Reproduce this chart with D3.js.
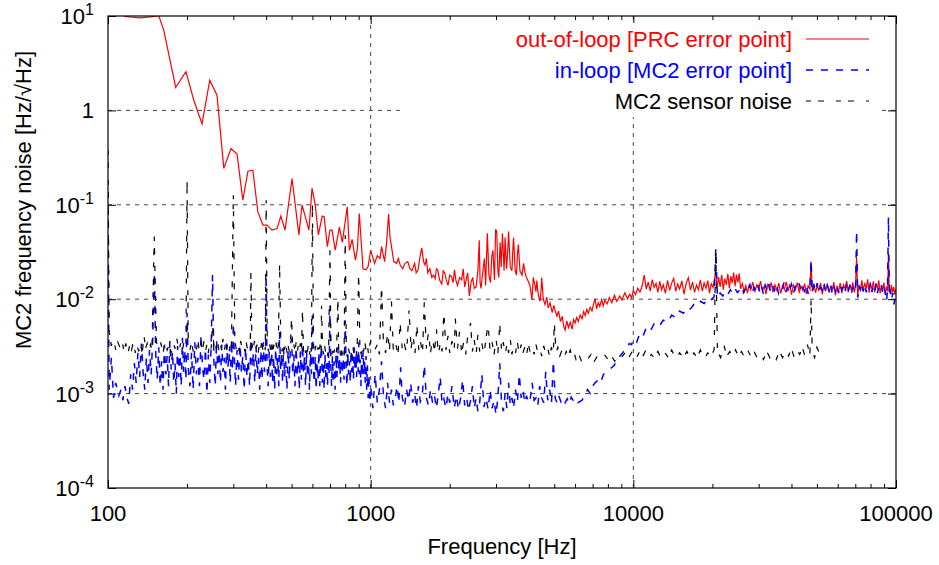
<!DOCTYPE html>
<html lang="en">
<head>
    <title>MC2 frequency noise</title>
    <meta charset="utf-8">
    <style>
        body { margin: 0; background: white; }
        svg { display: block; background: white; }
        text { font-family: "Liberation Sans", Arial, sans-serif; font-size: 22px; fill: #000; }
        .grid { stroke: #444; stroke-width: 1; stroke-dasharray: 4,5; }
    </style>
    <script src="https://d3js.org/d3.v7.min.js"></script>
</head>
<body>
<svg id="chart" width="939" height="565"></svg>
<script>
    // frequency [Hz], noise [Hz/sqrt(Hz)]
    const outOfLoop = [
        [100, 30], [108, 18], [116, 9.9], [124, 9.7], [132, 9.55], [145, 9.8], [156, 10.1], [163, 7.1],
        [181, 1.75], [198, 2.57], [212, 1.29], [228, 0.72], [244, 2.09], [260, 1.45], [276, 0.243],
        [294, 0.395], [310, 0.344], [326, 0.112], [341, 0.227], [356, 0.233], [372, 0.084], [389, 0.061],
        [403, 0.061], [421, 0.054], [440, 0.056], [455, 0.076], [472, 0.054], [502, 0.19], [533, 0.048],
        [548, 0.1], [582, 0.054], [598, 0.15], [615, 0.1], [632, 0.048], [654, 0.076], [665, 0.075],
        [684, 0.036], [700, 0.054], [713, 0.054], [733, 0.033], [760, 0.058], [780, 0.04], [814, 0.095],
        [830, 0.033], [850, 0.043], [875, 0.026], [890, 0.034], [905, 0.081], [935, 0.021], [960, 0.0205],
        [977, 0.022], [1000, 0.033], [1035, 0.024], [1060, 0.029], [1085, 0.027], [1100, 0.036], [1130, 0.025],
        [1150, 0.04], [1170, 0.08], [1185, 0.045], [1200, 0.036], [1225, 0.025], [1255, 0.024], [1275, 0.027],
        [1295, 0.023], [1325, 0.021], [1350, 0.024], [1385, 0.025], [1410, 0.021], [1435, 0.02], [1470, 0.024],
        [1490, 0.019], [1515, 0.0205], [1540, 0.028], [1565, 0.035], [1590, 0.025], [1610, 0.023], [1630, 0.027],
        [1650, 0.019], [1680, 0.021], [1710, 0.017], [1735, 0.018], [1760, 0.0165], [1780, 0.021], [1800, 0.0205],
        [1830, 0.016], [1865, 0.0145], [1890, 0.02], [1915, 0.019], [1940, 0.016], [1970, 0.014], [2000, 0.018],
        [2030, 0.0175], [2060, 0.015], [2085, 0.0205], [2110, 0.016], [2140, 0.014], [2180, 0.017], [2220, 0.016],
        [2250, 0.021], [2280, 0.0135], [2310, 0.016], [2340, 0.019], [2375, 0.0108], [2410, 0.015], [2445, 0.017],
        [2480, 0.013], [2520, 0.0135], [2560, 0.02], [2590, 0.042], [2610, 0.015], [2630, 0.013], [2670, 0.019],
        [2710, 0.027], [2740, 0.014], [2780, 0.05], [2820, 0.018], [2860, 0.015], [2890, 0.028], [2920, 0.033],
        [2960, 0.016], [2990, 0.055], [3020, 0.052], [3050, 0.02], [3075, 0.017], [3110, 0.04], [3140, 0.022],
        [3175, 0.05], [3220, 0.02], [3250, 0.045], [3290, 0.021], [3320, 0.03], [3350, 0.052], [3400, 0.022],
        [3450, 0.02], [3480, 0.035], [3500, 0.045], [3550, 0.02], [3590, 0.018], [3620, 0.03], [3650, 0.038],
        [3700, 0.02], [3770, 0.018], [3820, 0.024], [3870, 0.019], [3920, 0.017], [3980, 0.0155], [4040, 0.014],
        [4110, 0.0098], [4160, 0.017], [4220, 0.014], [4260, 0.012], [4290, 0.0158], [4350, 0.011], [4410, 0.0095],
        [4450, 0.012], [4480, 0.017], [4540, 0.01], [4610, 0.0088], [4680, 0.0105], [4740, 0.0081], [4820, 0.0092],
        [4910, 0.0072], [4980, 0.0086], [5050, 0.0074], [5120, 0.0066], [5190, 0.0075], [5280, 0.0058], [5360, 0.0066],
        [5430, 0.0052], [5500, 0.0047], [5580, 0.0059], [5660, 0.005], [5750, 0.0057], [5850, 0.0048], [5920, 0.0061],
        [6000, 0.0056], [6080, 0.0064], [6170, 0.0058], [6270, 0.0068], [6380, 0.0062], [6470, 0.0074], [6560, 0.0067],
        [6650, 0.0078], [6740, 0.0071], [6850, 0.0082], [6960, 0.0075], [7050, 0.0088], [7150, 0.0101], [7250, 0.0079],
        [7350, 0.0092], [7450, 0.0084], [7580, 0.0099], [7680, 0.0085], [7790, 0.0097], [7950, 0.0089], [8100, 0.0104],
        [8280, 0.0092], [8470, 0.011], [8650, 0.0095], [8880, 0.0108], [9050, 0.0098], [9280, 0.0117], [9500, 0.0101],
        [9700, 0.0113], [9850, 0.0103], [10000, 0.0124], [10200, 0.0112], [10400, 0.0131], [10600, 0.0119], [10800, 0.0138],
        [11000, 0.018], [11200, 0.0128], [11400, 0.0152], [11600, 0.0122], [11800, 0.0161], [12000, 0.0133], [12200, 0.0147],
        [12400, 0.0118], [12600, 0.0155], [12800, 0.0126], [13000, 0.0142], [13250, 0.0115], [13500, 0.0158], [13750, 0.0124],
        [14000, 0.0149], [14250, 0.0166], [14500, 0.0121], [14750, 0.0145], [15000, 0.0128], [15300, 0.0156], [15600, 0.0113],
        [15900, 0.0148], [16200, 0.0169], [16500, 0.0125], [16800, 0.0152], [17100, 0.0118], [17400, 0.0141], [17700, 0.0126],
        [18000, 0.016], [18300, 0.0122], [18600, 0.0149], [18900, 0.0131], [19200, 0.0157], [19500, 0.0116], [19800, 0.0146],
        [20100, 0.0133], [20400, 0.0168], [20600, 0.02], [20800, 0.0128], [21100, 0.0172], [21400, 0.0135], [21700, 0.0181],
        [22000, 0.0126], [22300, 0.0165], [22600, 0.0142], [22900, 0.0186], [23200, 0.0131], [23500, 0.0176], [23800, 0.0148],
        [24100, 0.0192], [24400, 0.0137], [24700, 0.0182], [25000, 0.0151], [25300, 0.0188], [25600, 0.0129], [26000, 0.0147],
        [26400, 0.0121], [26800, 0.0139], [27200, 0.0116], [27600, 0.0143], [28000, 0.0126], [28500, 0.0152], [29000, 0.0119],
        [29500, 0.0141], [30000, 0.0127], [30500, 0.0155], [31000, 0.0122], [31500, 0.0138], [32000, 0.0113], [32500, 0.0146],
        [33000, 0.0129], [33500, 0.0151], [34000, 0.0118], [34600, 0.0142], [35200, 0.0124], [35800, 0.0148], [36400, 0.0115],
        [37000, 0.0139], [37600, 0.0127], [38200, 0.0153], [38800, 0.0121], [39400, 0.0144], [40000, 0.0112], [40700, 0.0141],
        [41400, 0.0126], [42100, 0.015], [42800, 0.0119], [43500, 0.0137], [44200, 0.0123], [44900, 0.0146], [45600, 0.0114],
        [46300, 0.0139], [47000, 0.0128], [47500, 0.025], [48000, 0.0121], [48700, 0.0145], [49400, 0.0117], [50100, 0.0138],
        [50800, 0.0125], [51600, 0.0149], [52400, 0.0113], [53200, 0.0141], [54000, 0.0122], [54800, 0.0147], [55600, 0.0118],
        [56400, 0.0136], [57200, 0.0126], [58000, 0.0152], [58800, 0.011], [59600, 0.0139], [60400, 0.0121], [61300, 0.0148],
        [62200, 0.0116], [63100, 0.0142], [64000, 0.0128], [64900, 0.0156], [65800, 0.0119], [66700, 0.0144], [67600, 0.0125],
        [68500, 0.0151], [69400, 0.0118], [70100, 0.0137], [70800, 0.028], [71500, 0.0106], [72300, 0.0142], [73200, 0.0124],
        [74100, 0.0158], [75000, 0.0121], [76000, 0.0149], [77000, 0.0129], [78000, 0.0162], [79000, 0.0117], [80000, 0.0146],
        [81000, 0.0127], [82000, 0.0155], [83000, 0.0119], [84000, 0.0143], [85000, 0.0131], [86000, 0.0158], [87000, 0.0115],
        [88000, 0.0141], [89000, 0.0124], [90000, 0.015], [91000, 0.0112], [92000, 0.0136], [93000, 0.0121], [93600, 0.031],
        [94200, 0.0139], [95000, 0.0113], [96000, 0.0142], [97000, 0.0118], [98000, 0.0135], [99000, 0.0112], [100000, 0.0128]
    ];

    const inLoop = [
        [100, 0.1], [101, 0.0011], [103, 0.0024], [105, 0.0009], [107, 0.0013], [110, 0.00095], [112, 0.0011], [114, 0.00085],
        [116, 0.0012], [118, 0.0009], [120, 0.00078], [122, 0.0016], [124, 0.0011], [126, 0.0021], [128, 0.0013], [130, 0.0027],
        [132, 0.0015], [134, 0.0034], [136, 0.0017], [138, 0.0011], [140, 0.0024], [142, 0.0013], [144, 0.0029], [146, 0.0016],
        [148, 0.0038], [150, 0.019], [152, 0.0026], [154, 0.0014], [156, 0.0031], [158, 0.0012], [160, 0.0022], [162, 0.0011],
        [164, 0.0033], [166, 0.0016], [168, 0.0025], [170, 0.0012], [172, 0.0036], [174, 0.0018], [176, 0.0028], [178, 0.0013],
        [180, 0.0021], [182, 0.001], [184, 0.0032], [186, 0.0015], [188, 0.0026], [190, 0.0012], [192, 0.0039], [194, 0.0017],
        [196, 0.0029], [198, 0.0014], [200, 0.0072], [202, 0.0019], [205, 0.0012], [208, 0.0027], [211, 0.0011], [214, 0.0035],
        [217, 0.0016], [220, 0.0024], [223, 0.0012], [226, 0.0042], [229, 0.0019], [232, 0.0014], [235, 0.003], [238, 0.001],
        [241, 0.0026], [244, 0.0013], [247, 0.0031], [250, 0.018], [253, 0.0022], [256, 0.0012], [259, 0.0037], [262, 0.0016],
        [265, 0.0028], [268, 0.0013], [271, 0.0033], [274, 0.0017], [277, 0.0024], [280, 0.0011], [283, 0.0034], [286, 0.0019],
        [289, 0.0027], [292, 0.0013], [295, 0.0036], [298, 0.0018], [300, 0.0056], [303, 0.0022], [306, 0.0012], [310, 0.0029],
        [314, 0.0014], [318, 0.0033], [322, 0.0017], [326, 0.0025], [330, 0.0011], [334, 0.0031], [338, 0.0015], [342, 0.0023],
        [346, 0.0012], [350, 0.0038], [354, 0.0019], [358, 0.0027], [362, 0.0013], [366, 0.0032], [370, 0.0016], [374, 0.0024],
        [378, 0.0011], [382, 0.0029], [386, 0.0014], [390, 0.0035], [394, 0.0017], [398, 0.0026], [400, 0.018], [403, 0.0021],
        [407, 0.0012], [411, 0.0028], [415, 0.0015], [419, 0.0033], [423, 0.0013], [427, 0.0025], [431, 0.0011], [435, 0.003],
        [439, 0.0016], [443, 0.0024], [447, 0.0012], [450, 0.0045], [454, 0.0018], [458, 0.0027], [462, 0.0013], [466, 0.0031],
        [470, 0.0015], [475, 0.0022], [480, 0.0011], [485, 0.0029], [490, 0.0014], [495, 0.0034], [500, 0.0038], [505, 0.0016],
        [510, 0.0026], [515, 0.0012], [520, 0.0031], [525, 0.0015], [530, 0.0023], [535, 0.0011], [540, 0.0028], [545, 0.0014],
        [550, 0.0033], [555, 0.0017], [560, 0.0025], [565, 0.0012], [570, 0.0029], [575, 0.0015], [580, 0.0021], [585, 0.0011],
        [590, 0.0027], [595, 0.0016], [600, 0.0067], [605, 0.0019], [610, 0.0013], [615, 0.0025], [620, 0.0011], [625, 0.0022],
        [630, 0.0014], [635, 0.0028], [640, 0.0012], [645, 0.0024], [650, 0.0032], [655, 0.0013], [660, 0.0022], [665, 0.0011],
        [670, 0.0026], [675, 0.0015], [680, 0.0021], [685, 0.0012], [690, 0.0027], [695, 0.0016], [700, 0.0085], [705, 0.002],
        [710, 0.0012], [715, 0.0025], [720, 0.0014], [726, 0.0022], [732, 0.0011], [738, 0.0026], [744, 0.0015], [750, 0.0031],
        [756, 0.0017], [762, 0.0023], [768, 0.0013], [774, 0.0028], [780, 0.0016], [786, 0.0024], [792, 0.0014], [800, 0.006],
        [806, 0.002], [812, 0.0012], [818, 0.0027], [824, 0.0016], [830, 0.0022], [836, 0.0013], [842, 0.0029], [848, 0.0017],
        [854, 0.0025], [860, 0.0014], [866, 0.0031], [872, 0.0018], [878, 0.0026], [884, 0.0015], [890, 0.0028], [896, 0.0017],
        [900, 0.0035], [906, 0.0016], [912, 0.0023], [918, 0.0012], [924, 0.0026], [930, 0.0015], [936, 0.0029], [942, 0.0016],
        [948, 0.0022], [954, 0.0013], [960, 0.0025], [966, 0.0011], [972, 0.002], [978, 0.0009], [985, 0.0016], [992, 0.0008],
        [1000, 0.0012], [1020, 0.0007], [1040, 0.0016], [1060, 0.0008], [1080, 0.0011], [1100, 0.0022], [1120, 0.0009],
        [1140, 0.0007], [1160, 0.0013], [1180, 0.0008], [1200, 0.0011], [1220, 0.00075], [1240, 0.0009], [1260, 0.0012],
        [1280, 0.0008], [1300, 0.0019], [1320, 0.0009], [1345, 0.00072], [1370, 0.0011], [1395, 0.00085], [1420, 0.0013],
        [1445, 0.0008], [1470, 0.001], [1495, 0.0007], [1520, 0.0012], [1545, 0.00082], [1570, 0.0009], [1600, 0.002],
        [1630, 0.0009], [1660, 0.00075], [1690, 0.0011], [1720, 0.0008], [1750, 0.00095], [1780, 0.0007], [1810, 0.001],
        [1840, 0.0015], [1870, 0.00078], [1900, 0.00088], [1935, 0.0007], [1970, 0.001], [2000, 0.0008], [2040, 0.0012],
        [2080, 0.0007], [2120, 0.00095], [2160, 0.00068], [2200, 0.0009], [2240, 0.0014], [2280, 0.00075], [2320, 0.0009],
        [2360, 0.00066], [2400, 0.00085], [2440, 0.0012], [2480, 0.0007], [2520, 0.0009], [2560, 0.00065], [2600, 0.0008],
        [2650, 0.0016], [2700, 0.00072], [2750, 0.0009], [2800, 0.00068], [2850, 0.0011], [2900, 0.0007], [2950, 0.00085],
        [3000, 0.0006], [3050, 0.0009], [3100, 0.0021], [3150, 0.0008], [3200, 0.00065], [3250, 0.001], [3300, 0.0007],
        [3350, 0.0013], [3400, 0.00075], [3450, 0.0009], [3500, 0.0007], [3560, 0.0011], [3620, 0.00082], [3680, 0.0016],
        [3740, 0.0009], [3800, 0.0011], [3860, 0.0008], [3920, 0.00095], [3980, 0.0008], [4050, 0.00088], [4120, 0.0013],
        [4190, 0.00085], [4260, 0.0009], [4330, 0.00075], [4400, 0.0012], [4480, 0.0009], [4560, 0.0008], [4640, 0.0017],
        [4720, 0.00085], [4800, 0.0011], [4880, 0.0008], [4960, 0.0022], [5040, 0.0009], [5120, 0.0008], [5200, 0.00095],
        [5300, 0.00082], [5400, 0.0009], [5500, 0.0008], [5600, 0.00088], [5700, 0.00078], [5800, 0.00092], [5900, 0.00085],
        [6000, 0.0009], [6150, 0.0008], [6380, 0.00085], [6550, 0.001], [6700, 0.0011], [6850, 0.001], [7000, 0.0012],
        [7150, 0.0013], [7350, 0.0014], [7500, 0.0013], [7700, 0.0016], [7900, 0.0017], [8100, 0.0018], [8300, 0.0019],
        [8470, 0.002], [8650, 0.0023], [8800, 0.0024], [9000, 0.0026], [9200, 0.0028], [9400, 0.0029], [9650, 0.0034],
        [9850, 0.0033], [10000, 0.0038], [10300, 0.0035], [10600, 0.0044], [10900, 0.0041], [11200, 0.005], [11600, 0.0046],
        [12000, 0.0055], [12500, 0.0051], [13000, 0.006], [13500, 0.0057], [14000, 0.0068], [14500, 0.0064], [15000, 0.0075],
        [15500, 0.0071], [16000, 0.0082], [16500, 0.0079], [17000, 0.0088], [17500, 0.0085], [18000, 0.0095], [18600, 0.009],
        [19200, 0.0101], [19700, 0.0097], [20300, 0.0106], [20600, 0.034], [20900, 0.0104], [21400, 0.0116], [21900, 0.0108],
        [22400, 0.0121], [22900, 0.0112], [23400, 0.0126], [23900, 0.0115], [24400, 0.0129], [24900, 0.0118], [25300, 0.0124],
        [25800, 0.0136], [26300, 0.0117], [26800, 0.0131], [27300, 0.0121], [27800, 0.0142], [28300, 0.0115], [28800, 0.0134],
        [29300, 0.0125], [29800, 0.0146], [30300, 0.0118], [30800, 0.0137], [31300, 0.0112], [31800, 0.0141], [32300, 0.0126],
        [32800, 0.0148], [33300, 0.0119], [33900, 0.0139], [34500, 0.0124], [35100, 0.0145], [35700, 0.0116], [36300, 0.0133],
        [36900, 0.0127], [37500, 0.0151], [38100, 0.0119], [38700, 0.0137], [39300, 0.0123], [40000, 0.0144], [40700, 0.0115],
        [41400, 0.0136], [42100, 0.0126], [42800, 0.0147], [43500, 0.0118], [44200, 0.0133], [44900, 0.0121], [45600, 0.0142],
        [46300, 0.0114], [47000, 0.0131], [47500, 0.026], [48000, 0.0117], [48700, 0.0139], [49400, 0.0122], [50100, 0.0148],
        [50800, 0.0119], [51600, 0.0135], [52400, 0.0126], [53200, 0.015], [54000, 0.0117], [54800, 0.0138], [55600, 0.0123],
        [56400, 0.0145], [57200, 0.0112], [58000, 0.0134], [58800, 0.0121], [59600, 0.0139], [60400, 0.0116], [61300, 0.0142],
        [62200, 0.0125], [63100, 0.0137], [64000, 0.0118], [64900, 0.0146], [65800, 0.0122], [66700, 0.014], [67600, 0.0115],
        [68500, 0.0133], [69400, 0.0124], [70100, 0.0119], [70800, 0.053], [71500, 0.0104], [72300, 0.0137], [73200, 0.0126],
        [74100, 0.0149], [75000, 0.0121], [76000, 0.0143], [77000, 0.0118], [78000, 0.0138], [79000, 0.0127], [80000, 0.0152],
        [81000, 0.0119], [82000, 0.014], [83000, 0.0123], [84000, 0.0146], [85000, 0.0116], [86000, 0.0135], [87000, 0.0128],
        [88000, 0.0142], [89000, 0.0114], [90000, 0.0131], [91000, 0.0119], [92000, 0.0095], [92800, 0.0122], [93600, 0.074],
        [94300, 0.0108], [95200, 0.0126], [96200, 0.0099], [97200, 0.0117], [98200, 0.0088], [99200, 0.0104], [100000, 0.0092]
    ];

    const sensorNoise = [
        [100, 0.38], [101, 0.0045], [103, 0.0032], [105, 0.0038], [107, 0.0029], [109, 0.0035], [111, 0.0031], [113, 0.0037],
        [115, 0.0028], [117, 0.0034], [119, 0.0026], [121, 0.0033], [123, 0.0029], [125, 0.0036], [127, 0.0027], [129, 0.0032],
        [131, 0.0028], [133, 0.0035], [135, 0.0026], [137, 0.0042], [139, 0.003], [141, 0.0034], [143, 0.0028], [145, 0.0033],
        [147, 0.0029], [150, 0.046], [153, 0.0035], [156, 0.0029], [159, 0.0034], [162, 0.0027], [165, 0.0036], [168, 0.0029],
        [171, 0.0033], [174, 0.0027], [177, 0.0035], [180, 0.003], [183, 0.0038], [186, 0.0028], [189, 0.0034], [192, 0.0029],
        [195, 0.0036], [198, 0.0031], [200, 0.175], [202, 0.0038], [205, 0.0029], [208, 0.0035], [211, 0.0028], [214, 0.0033],
        [217, 0.0029], [220, 0.0037], [223, 0.0027], [226, 0.0034], [229, 0.0029], [232, 0.0036], [235, 0.0028], [238, 0.0033],
        [241, 0.0027], [244, 0.0035], [247, 0.003], [250, 0.0055], [253, 0.0031], [256, 0.0036], [259, 0.0029], [262, 0.0034],
        [265, 0.0027], [268, 0.0033], [271, 0.0029], [274, 0.0038], [277, 0.0028], [280, 0.0034], [283, 0.0029], [286, 0.0035],
        [289, 0.0028], [292, 0.0033], [295, 0.003], [300, 0.126], [304, 0.0037], [308, 0.0029], [312, 0.0034], [316, 0.0028],
        [320, 0.0036], [324, 0.003], [328, 0.0033], [332, 0.0028], [336, 0.0035], [340, 0.0029], [344, 0.0032], [348, 0.0028],
        [350, 0.0195], [353, 0.0034], [357, 0.0029], [361, 0.0036], [365, 0.0028], [369, 0.0033], [373, 0.0027], [377, 0.0034],
        [381, 0.0029], [385, 0.0037], [389, 0.0028], [393, 0.0033], [397, 0.0029], [400, 0.112], [404, 0.0035], [408, 0.0028],
        [412, 0.0034], [416, 0.0029], [420, 0.0036], [424, 0.0027], [428, 0.0033], [432, 0.0029], [436, 0.0035], [440, 0.0028],
        [445, 0.0032], [450, 0.023], [455, 0.0034], [460, 0.0028], [465, 0.0033], [470, 0.0029], [475, 0.0036], [480, 0.0027],
        [485, 0.0032], [490, 0.0028], [495, 0.0034], [500, 0.0065], [505, 0.0029], [510, 0.0033], [515, 0.0028], [520, 0.0035],
        [525, 0.0027], [530, 0.0032], [535, 0.0029], [540, 0.0034], [545, 0.0027], [550, 0.0075], [555, 0.0028], [560, 0.0033],
        [565, 0.0027], [570, 0.0031], [575, 0.0028], [580, 0.0034], [585, 0.0026], [590, 0.0032], [595, 0.0028], [600, 0.099],
        [606, 0.0033], [612, 0.0027], [618, 0.0032], [624, 0.0026], [630, 0.0031], [636, 0.0027], [642, 0.0033], [648, 0.0026],
        [650, 0.0085], [656, 0.003], [662, 0.0026], [668, 0.0032], [674, 0.0027], [680, 0.003], [686, 0.0025], [692, 0.0031],
        [700, 0.033], [706, 0.0029], [712, 0.0026], [718, 0.0031], [724, 0.0027], [730, 0.003], [736, 0.0025], [742, 0.0029],
        [750, 0.0105], [756, 0.0027], [762, 0.0031], [768, 0.0025], [774, 0.0029], [780, 0.0026], [786, 0.003], [792, 0.0025],
        [800, 0.048], [808, 0.0028], [816, 0.0024], [824, 0.003], [832, 0.0026], [840, 0.0029], [848, 0.0024], [856, 0.0031],
        [864, 0.0026], [872, 0.0029], [880, 0.0025], [888, 0.003], [900, 0.019], [910, 0.0031], [920, 0.0026], [930, 0.0033],
        [940, 0.0028], [950, 0.0035], [960, 0.0029], [970, 0.0034], [980, 0.0027], [990, 0.0032], [1000, 0.0036], [1030, 0.0028],
        [1060, 0.0033], [1080, 0.0026], [1100, 0.014], [1120, 0.0031], [1140, 0.0027], [1160, 0.0045], [1180, 0.0029],
        [1200, 0.0095], [1220, 0.0028], [1245, 0.0034], [1270, 0.0026], [1295, 0.0055], [1320, 0.0029], [1345, 0.0033],
        [1370, 0.0027], [1400, 0.0076], [1425, 0.003], [1450, 0.0042], [1475, 0.0027], [1500, 0.0052], [1525, 0.0029],
        [1550, 0.0035], [1575, 0.0026], [1600, 0.0093], [1630, 0.003], [1660, 0.0045], [1690, 0.0027], [1720, 0.0038],
        [1750, 0.0028], [1780, 0.0048], [1810, 0.0026], [1840, 0.0034], [1870, 0.0028], [1900, 0.0073], [1935, 0.0029],
        [1970, 0.0041], [2000, 0.0027], [2040, 0.0036], [2080, 0.0028], [2100, 0.0063], [2140, 0.003], [2180, 0.0045],
        [2220, 0.0027], [2260, 0.0035], [2300, 0.0026], [2340, 0.004], [2400, 0.0056], [2440, 0.0028], [2480, 0.0037],
        [2520, 0.0026], [2560, 0.0042], [2600, 0.0028], [2650, 0.0034], [2700, 0.0026], [2750, 0.0039], [2800, 0.0054],
        [2850, 0.0028], [2900, 0.0035], [2950, 0.0026], [3000, 0.0038], [3050, 0.0027], [3100, 0.0054], [3150, 0.0029],
        [3200, 0.0035], [3250, 0.0026], [3300, 0.0033], [3350, 0.0027], [3400, 0.0038], [3450, 0.0026], [3500, 0.0032],
        [3560, 0.0027], [3620, 0.0035], [3680, 0.0026], [3740, 0.0033], [3800, 0.0027], [3860, 0.0031], [3920, 0.0025],
        [3980, 0.0034], [4050, 0.0027], [4120, 0.0031], [4190, 0.0026], [4260, 0.0033], [4330, 0.0027], [4400, 0.003],
        [4480, 0.0025], [4560, 0.0032], [4640, 0.0026], [4720, 0.003], [4800, 0.0025], [4880, 0.0031], [4960, 0.0026],
        [5000, 0.0058], [5080, 0.0027], [5160, 0.0031], [5250, 0.0025], [5350, 0.0029], [5450, 0.0024], [5550, 0.0028],
        [5650, 0.0025], [5750, 0.0029], [5850, 0.0024], [5950, 0.0027], [6050, 0.0023], [6200, 0.0026], [6350, 0.0022],
        [6500, 0.0025], [6700, 0.0023], [6900, 0.0026], [7100, 0.0022], [7300, 0.0025], [7500, 0.0023], [7750, 0.0026],
        [8000, 0.0023], [8250, 0.0025], [8500, 0.0022], [8750, 0.0026], [9000, 0.0024], [9300, 0.0027], [9600, 0.0024],
        [9900, 0.0028], [10200, 0.0023], [10500, 0.0027], [10800, 0.0024], [11100, 0.0028], [11400, 0.0023], [11700, 0.0026],
        [12000, 0.0024], [12400, 0.0028], [12800, 0.0023], [13200, 0.0027], [13600, 0.0024], [14000, 0.0029], [14500, 0.0023],
        [15000, 0.0027], [15500, 0.0024], [16000, 0.0028], [16500, 0.0023], [17000, 0.0027], [17500, 0.0024], [18000, 0.0029],
        [18600, 0.0023], [19200, 0.0027], [19800, 0.0025], [20300, 0.0029], [20600, 0.034], [20900, 0.0028], [21500, 0.0024],
        [22100, 0.0033], [22700, 0.0025], [23300, 0.0028], [23900, 0.0024], [24500, 0.0029], [25100, 0.0025], [25800, 0.0028],
        [26500, 0.0024], [27200, 0.0029], [28000, 0.0025], [28800, 0.0028], [29600, 0.0024], [30400, 0.0027], [31300, 0.0023],
        [32200, 0.0028], [33100, 0.0024], [34000, 0.0027], [35000, 0.0023], [36000, 0.0028], [37000, 0.0024], [38000, 0.0029],
        [39000, 0.0025], [40000, 0.003], [41000, 0.0024], [42000, 0.0029], [43000, 0.0026], [44000, 0.0031], [45000, 0.0025],
        [46000, 0.0033], [47000, 0.0026], [47500, 0.0097], [48000, 0.0028], [49000, 0.0024], [50000, 0.0031], [51000, 0.0027]
    ];

    const seriesNames = ["out-of-loop [PRC error point]", "in-loop [MC2 error point]", "MC2 sensor noise"];
    const seriesColors = ["#ff0000", "#0000ff", "#000000"];
    const seriesDashes = [null, "7,8", "5,7,6,12"];
    const seriesWidths = [1.2, 1.5, 1.2];

    const xTickValues = [100, 1000, 10000, 100000];
    const xTickLabels = ["100", "1000", "10000", "100000"];
    const yTickValues = [1e-4, 1e-3, 1e-2, 1e-1, 1, 10];
    const yTickLabels = [["10", "-4"], ["10", "-3"], ["10", "-2"], ["10", "-1"], ["1", ""], ["10", "1"]];
    const xGridValues = [1000, 10000];
    const yGridValues = [1e-3, 1e-2, 1e-1, 1];

    const plotL = 108, plotR = 896, plotT = 16, plotB = 488;

    const x = d3.scaleLog().domain([100, 100000]).range([plotL, plotR]);
    const y = d3.scaleLog().domain([1e-4, 10]).range([plotB, plotT]);

    const xMinor = [];
    [100, 1000, 10000].forEach(dec => d3.range(2, 10).forEach(m => xMinor.push(dec * m)));

    const svg = d3.select("#chart");

    // grid
    svg.append("g").selectAll("line").data(xGridValues).join("line")
        .attr("class", "grid")
        .attr("x1", d => x(d)).attr("x2", d => x(d))
        .attr("y1", plotT).attr("y2", plotB);
    svg.append("g").selectAll("line").data(yGridValues).join("line")
        .attr("class", "grid")
        .attr("x1", plotL).attr("x2", plotR)
        .attr("y1", d => y(d)).attr("y2", d => y(d));

    // ticks on all four sides, pointing inwards
    const noLabel = () => "";
    const axes = [
        [d3.axisBottom(x).tickValues(xTickValues).tickSize(-8), `translate(0,${plotB})`],
        [d3.axisBottom(x).tickValues(xMinor).tickSize(-4), `translate(0,${plotB})`],
        [d3.axisTop(x).tickValues(xTickValues).tickSize(-8), `translate(0,${plotT})`],
        [d3.axisTop(x).tickValues(xMinor).tickSize(-4), `translate(0,${plotT})`],
        [d3.axisLeft(y).tickValues(yTickValues).tickSize(-8), `translate(${plotL},0)`],
        [d3.axisRight(y).tickValues(yTickValues).tickSize(-8), `translate(${plotR},0)`]
    ];
    axes.forEach(([ax, tr]) => {
        const g = svg.append("g").attr("transform", tr).call(ax.tickFormat(noLabel));
        g.select(".domain").remove();
        g.selectAll(".tick line").attr("stroke", "#000");
    });

    // legend background
    svg.append("rect")
        .attr("x", 400).attr("y", 23).attr("width", 481).attr("height", 94)
        .attr("fill", "white");

    // curves
    svg.append("clipPath").attr("id", "plot-clip")
        .append("rect").attr("x", plotL).attr("y", plotT)
        .attr("width", plotR - plotL).attr("height", plotB - plotT);

    const line = d3.line().x(d => x(d[0])).y(d => y(d[1]));
    const plotG = svg.append("g").attr("clip-path", "url(#plot-clip)");
    [outOfLoop, inLoop, sensorNoise].forEach((data, i) => {
        plotG.append("path")
            .datum(data)
            .attr("d", line)
            .attr("fill", "none")
            .attr("stroke", seriesColors[i])
            .attr("stroke-width", seriesWidths[i])
            .attr("stroke-dasharray", seriesDashes[i]);
    });

    // border
    svg.append("rect")
        .attr("x", plotL).attr("y", plotT)
        .attr("width", plotR - plotL).attr("height", plotB - plotT)
        .attr("fill", "none").attr("stroke", "#000").attr("stroke-width", 1.2);

    // tick labels
    svg.append("g").selectAll("text").data(xTickValues).join("text")
        .attr("x", d => x(d)).attr("y", 521)
        .attr("text-anchor", "middle")
        .text((d, i) => xTickLabels[i]);

    const yLabels = svg.append("g").selectAll("text").data(yTickValues).join("text")
        .attr("x", 94).attr("y", d => y(d) + 8)
        .attr("text-anchor", "end");
    yLabels.append("tspan").text((d, i) => yTickLabels[i][0]);
    yLabels.append("tspan")
        .attr("dy", -9)
        .style("font-size", "16px")
        .text((d, i) => yTickLabels[i][1]);

    // axis titles
    svg.append("text")
        .attr("x", (plotL + plotR) / 2).attr("y", 554)
        .attr("text-anchor", "middle")
        .text("Frequency [Hz]");
    svg.append("text")
        .attr("transform", "translate(31,200) rotate(-90)")
        .attr("text-anchor", "middle")
        .text("MC2 frequency noise [Hz/\u221AHz]");

    // legend
    const legendY = [39, 70, 101];
    seriesNames.forEach((name, i) => {
        svg.append("text")
            .attr("x", 792).attr("y", legendY[i] + 8)
            .attr("text-anchor", "end")
            .style("fill", seriesColors[i])
            .text(name);
        svg.append("line")
            .attr("x1", 806).attr("x2", 869)
            .attr("y1", legendY[i]).attr("y2", legendY[i])
            .attr("stroke", seriesColors[i])
            .attr("stroke-width", seriesWidths[i])
            .attr("stroke-dasharray", seriesDashes[i]);
    });
</script>
</body>
</html>
